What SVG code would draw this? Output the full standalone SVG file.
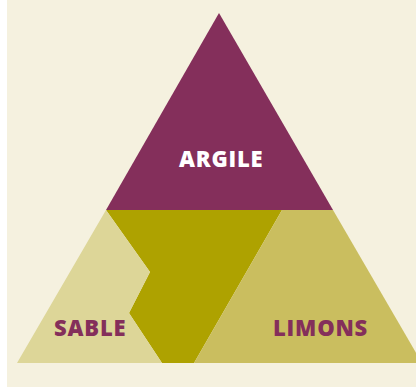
<svg xmlns="http://www.w3.org/2000/svg" width="416" height="387" viewBox="0 0 416 387">
  <style>
    .label { font-family: "Open Sans", "Liberation Sans", sans-serif; font-weight: 800; font-size: 22px; letter-spacing: 0.8px; }
    .light { fill: #ffffff; }
    .dark { fill: #842f5b; }
  </style>
  <rect x="0" y="0" width="416" height="387" fill="#ffffff"/>
  <rect x="7" y="0" width="409" height="387" fill="#f5f1df"/>
  <g id="argile">
    <polygon points="219,13 333,210 106,210" fill="#842f5b"/>
    <text class="label light" x="179" y="167">ARGILE</text>
  </g>
  <g id="limon-argileux">
    <polygon points="106,210 282,210 194,363 162,363 129,313 150,272" fill="#aea200"/>
  </g>
  <g id="sable">
    <polygon points="106,210 150,272 129,313 162,363 17,363" fill="#ddd698"/>
    <text class="label dark" x="54" y="336">SABLE</text>
  </g>
  <g id="limons">
    <polygon points="282,210 333,210 422,363 194,363" fill="#cabe5f"/>
    <text class="label dark" x="273" y="336">LIMONS</text>
  </g>
  <g id="connectors"/>
</svg>
